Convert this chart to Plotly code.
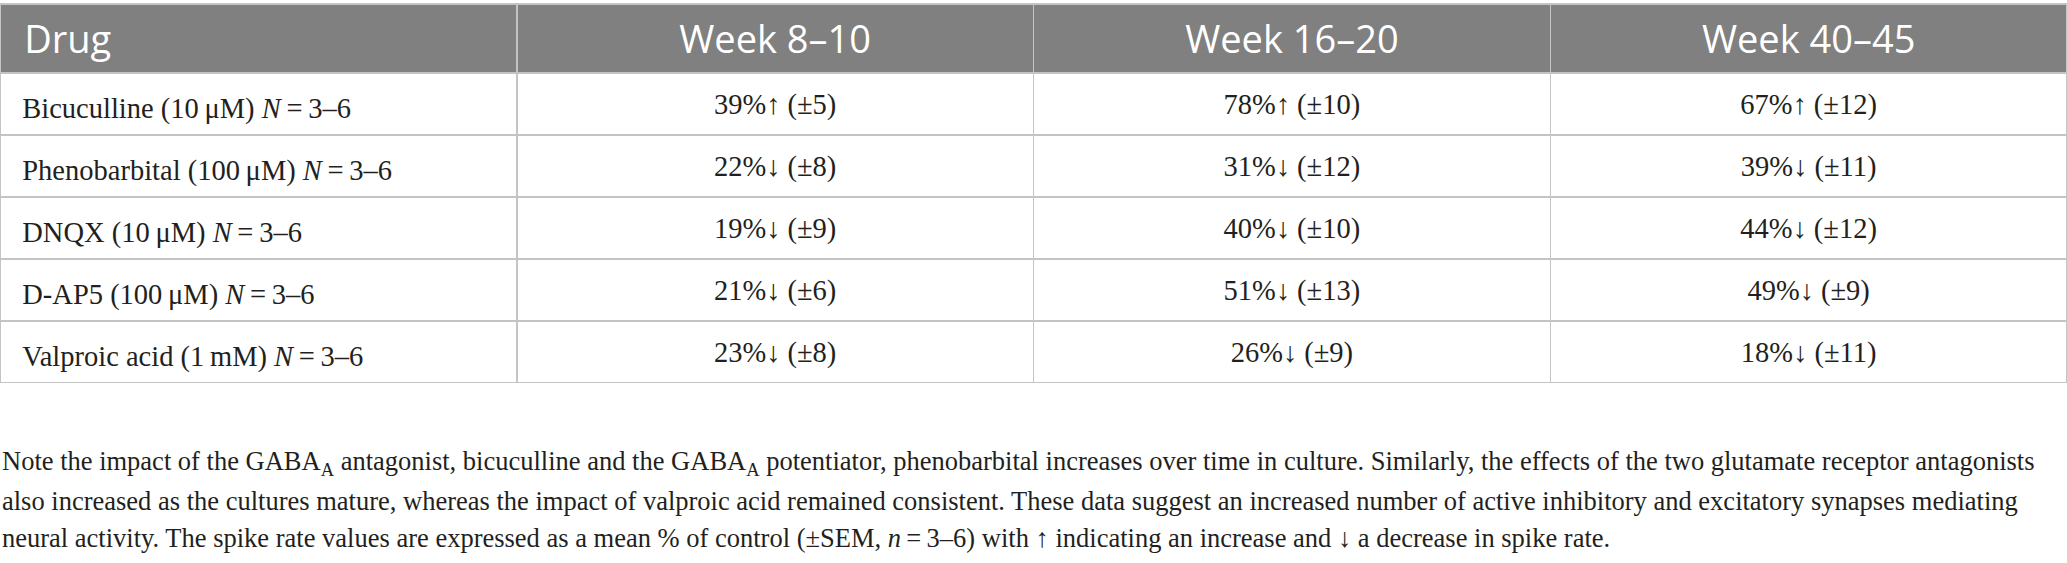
import plotly.graph_objects as go

# table content
col_headers = ["Drug", "Week 8\u201310", "Week 16\u201320", "Week 40\u201345"]
drugs = [
    "Bicuculline (10\u2009\u03bcM) <i>N</i>\u2009=\u20093\u20136",
    "Phenobarbital (100\u2009\u03bcM) <i>N</i>\u2009=\u20093\u20136",
    "DNQX (10\u2009\u03bcM) <i>N</i>\u2009=\u20093\u20136",
    "D-AP5 (100\u2009\u03bcM) <i>N</i>\u2009=\u20093\u20136",
    "Valproic acid (1\u2009mM) <i>N</i>\u2009=\u20093\u20136",
]
week_8_10 = ["39%\u2191 (\u00b15)", "22%\u2193 (\u00b18)", "19%\u2193 (\u00b19)",
             "21%\u2193 (\u00b16)", "23%\u2193 (\u00b18)"]
week_16_20 = ["78%\u2191 (\u00b110)", "31%\u2193 (\u00b112)", "40%\u2193 (\u00b110)",
              "51%\u2193 (\u00b113)", "26%\u2193 (\u00b19)"]
week_40_45 = ["67%\u2191 (\u00b112)", "39%\u2193 (\u00b111)", "44%\u2193 (\u00b112)",
              "49%\u2193 (\u00b19)", "18%\u2193 (\u00b111)"]

note_lines = [
    "Note the impact of the GABA<sub>A</sub> antagonist, bicuculline and the GABA<sub>A</sub> potentiator, "
    "phenobarbital increases over time in culture. Similarly, the effects of the two glutamate receptor antagonists",
    "also increased as the cultures mature, whereas the impact of valproic acid remained consistent. "
    "These data suggest an increased number of active inhibitory and excitatory synapses mediating",
    "neural activity. The spike rate values are expressed as a mean % of control (\u00b1SEM, "
    "<i>n</i>\u2009=\u20093\u20136) with \u2191 indicating an increase and \u2193 a decrease in spike rate.",
]

W, H = 2067, 563
TOP, BOTTOM = 4, 383       # table top / bottom in px
TEXT_SHIFT = 12            # plotly puts cell text near the top, push it down

HEADER_GRAY = "#808080"
LINE_GRAY = "#c4c4c4"
INK = "#231f20"
SERIF = "Liberation Serif"

aligns = ["left", "center", "center", "center"]

fig = go.Figure()

# grid + fills, no text
fig.add_trace(go.Table(
    domain=dict(x=[0, 1], y=[1 - BOTTOM / H, 1 - TOP / H]),
    columnwidth=[1, 1, 1, 1],
    header=dict(
        values=[""] * 4,
        fill_color=HEADER_GRAY,
        line=dict(color=LINE_GRAY, width=1.5),
        height=69,
    ),
    cells=dict(
        values=[[""] * len(drugs)] * 4,
        fill_color="white",
        line=dict(color=LINE_GRAY, width=1.5),
        height=62,
    ),
))

# text layer, shifted down a bit
fig.add_trace(go.Table(
    domain=dict(x=[0, 1], y=[1 - (BOTTOM + TEXT_SHIFT) / H, 1 - (TOP + TEXT_SHIFT) / H]),
    columnwidth=[1, 1, 1, 1],
    header=dict(
        values=["\u00a0\u2009" + col_headers[0]] + col_headers[1:],
        align=aligns,
        fill_color="rgba(0,0,0,0)",
        line=dict(width=0),
        font=dict(family="Open Sans", size=38, color="white"),
        height=69,
    ),
    cells=dict(
        values=[["\u00a0\u00a0" + d for d in drugs], week_8_10, week_16_20, week_40_45],
        align=aligns,
        fill_color="rgba(0,0,0,0)",
        line=dict(width=0),
        font=dict(family=SERIF, size=28.5, color=INK),
        height=62,
    ),
))

# footnote, one annotation per line
for i, line in enumerate(note_lines):
    y_px = 463 + 37.5 * i
    fig.add_annotation(
        x=0, y=1 - y_px / H, xref="paper", yref="paper",
        xanchor="left", yanchor="middle", showarrow=False,
        text=line, align="left",
        font=dict(family=SERIF, size=26.5, color=INK),
    )

fig.update_layout(
    width=W, height=H,
    margin=dict(l=0, r=0, t=0, b=0),
    paper_bgcolor="white",
    plot_bgcolor="white",
)

# drop the default 8px page margin so the figure sits at the window corner
fig.write_html("out.html", config={"displayModeBar": False},
               post_script="document.body.style.margin = '0';")
